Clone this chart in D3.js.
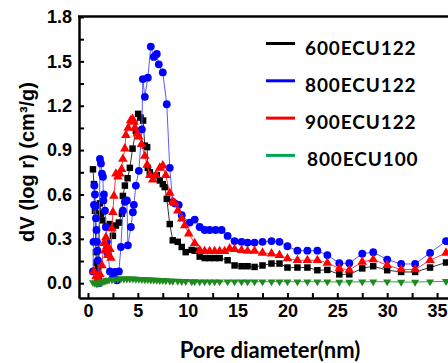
<!DOCTYPE html>
<html>
<head>
<meta charset="utf-8">
<script src="https://cdn.jsdelivr.net/npm/d3@7"></script>
<style>
  body { margin: 0; background: #fff; }
  svg { display: block; }
</style>
</head>
<body>
<svg width="448" height="363"></svg>
<script>
// series names as in the legend
var seriesNames = ["600ECU122", "800ECU122", "900ECU122", "800ECU100"];

// [pore diameter (nm), dV(log r)]
var s600 = [[0.5,0.77],[0.6,0.67],[0.7,0.49],[0.8,0.21],[0.85,0.14],[0.9,0.06],[1.0,0.10],[1.2,0.54],[1.3,0.47],[1.5,0.425],[1.8,0.38],[2.2,0.40],[2.5,0.32],[2.8,0.39],[3.1,0.41],[3.4,0.47],[3.5,0.59],[3.7,0.66],[3.97,0.71],[4.2,0.78],[4.47,0.91],[4.8,1.03],[5.03,1.145],[5.27,1.12],[5.53,1.10],[5.7,0.93],[5.93,0.92],[6.0,0.78],[6.2,0.75],[6.9,0.73],[7.2,0.695],[7.5,0.67],[7.7,0.65],[7.9,0.57],[8.2,0.40],[8.5,0.29],[9.0,0.28],[9.4,0.245],[9.8,0.21],[10.4,0.225],[10.7,0.22],[11.2,0.18],[11.7,0.17],[12.2,0.17],[12.7,0.17],[13.2,0.17],[14.0,0.155],[14.7,0.12],[15.4,0.115],[16.0,0.115],[16.7,0.11],[17.5,0.12],[18.4,0.133],[19.2,0.133],[20.0,0.106],[21.0,0.106],[22.0,0.106],[23.0,0.088],[24.0,0.09],[25.2,0.06],[26.2,0.06],[27.5,0.10],[28.6,0.115],[30.0,0.088],[31.4,0.076],[32.8,0.076],[34.3,0.106],[35.9,0.14]];

var s800 = [[0.5,0.08],[0.55,0.28],[0.6,0.53],[0.65,0.66],[0.7,0.60],[0.75,0.52],[0.8,0.44],[0.85,0.36],[0.9,0.28],[0.95,0.22],[1.0,0.155],[1.05,0.03],[1.1,0.0],[1.2,0.84],[1.3,0.81],[1.4,0.74],[1.5,0.72],[1.55,0.56],[1.6,0.60],[1.7,0.49],[1.8,0.38],[1.9,0.28],[2.0,0.20],[2.2,0.08],[2.5,0.04],[2.7,0.076],[2.9,0.02],[3.1,0.08],[3.3,0.245],[3.5,0.49],[3.7,0.55],[3.9,0.56],[4.0,0.256],[4.3,0.38],[4.5,0.48],[4.6,0.53],[4.8,0.66],[5.1,0.76],[5.4,1.04],[5.5,1.38],[5.7,1.26],[6.0,1.39],[6.3,1.60],[6.6,1.53],[6.9,1.55],[7.1,1.48],[7.5,1.425],[7.9,1.21],[8.2,0.78],[8.5,0.55],[8.7,0.54],[9.1,0.53],[9.4,0.46],[10.2,0.41],[10.7,0.43],[11.2,0.38],[11.7,0.36],[12.2,0.36],[12.8,0.36],[13.4,0.36],[14.0,0.32],[14.7,0.285],[15.4,0.28],[16.0,0.275],[16.7,0.275],[17.5,0.28],[18.4,0.285],[19.2,0.28],[20.0,0.25],[21.0,0.22],[22.0,0.22],[23.0,0.22],[24.0,0.19],[25.2,0.135],[26.2,0.135],[27.5,0.20],[28.6,0.21],[30.0,0.16],[31.4,0.13],[32.8,0.13],[34.3,0.205],[35.9,0.285]];

var s900 = [[0.6,0.08],[0.8,0.045],[1.0,0.03],[1.2,0.06],[1.4,0.12],[1.6,0.27],[1.7,0.22],[1.8,0.31],[1.9,0.25],[2.0,0.19],[2.2,0.23],[2.3,0.17],[2.4,0.37],[2.5,0.48],[2.6,0.59],[2.8,0.74],[3.0,0.72],[3.2,0.74],[3.37,0.77],[3.5,0.84],[3.7,0.91],[3.8,1.00],[4.03,1.05],[4.27,1.10],[4.47,1.11],[4.6,1.09],[4.7,1.05],[4.93,1.01],[5.1,0.99],[5.37,0.94],[5.7,0.86],[5.93,0.80],[6.2,0.73],[6.5,0.70],[6.8,0.73],[7.2,0.78],[7.5,0.795],[7.8,0.73],[8.2,0.61],[8.5,0.55],[8.7,0.54],[9.0,0.49],[9.4,0.436],[9.7,0.39],[10.1,0.335],[10.7,0.27],[11.2,0.223],[11.7,0.216],[12.2,0.216],[12.7,0.216],[13.2,0.216],[13.7,0.216],[14.2,0.234],[14.7,0.23],[15.4,0.223],[16.0,0.218],[16.7,0.218],[17.5,0.205],[18.4,0.20],[19.2,0.19],[20.0,0.167],[21.0,0.155],[22.0,0.155],[23.0,0.155],[24.0,0.137],[25.2,0.10],[26.2,0.09],[27.5,0.144],[28.6,0.16],[30.0,0.122],[31.4,0.093],[32.8,0.093],[34.3,0.155],[35.9,0.205]];

var s800b = [[0.5,0.005],[0.7,0.0],[0.9,-0.005],[1.1,0.0],[1.3,0.005],[1.5,0.01],[1.7,0.015],[1.9,0.02],[2.1,0.022],[2.4,0.025],[2.7,0.027],[3.0,0.028],[3.3,0.03],[3.6,0.03],[3.9,0.03],[4.2,0.03],[4.5,0.029],[4.8,0.028],[5.1,0.027],[5.4,0.026],[5.7,0.025],[6.0,0.024],[6.3,0.023],[6.6,0.022],[6.9,0.021],[7.2,0.02],[7.5,0.019],[7.8,0.018],[8.2,0.016],[8.5,0.015],[9.0,0.014],[9.4,0.013],[9.8,0.012],[10.4,0.011],[10.7,0.011],[11.2,0.01],[11.7,0.01],[12.2,0.01],[12.7,0.01],[13.2,0.01],[14.0,0.01],[14.7,0.01],[15.4,0.01],[16.0,0.01],[16.7,0.01],[17.5,0.01],[18.4,0.01],[19.2,0.01],[20.0,0.01],[21.0,0.01],[22.0,0.01],[23.0,0.01],[24.0,0.01],[25.2,0.008],[26.2,0.008],[27.5,0.01],[28.6,0.01],[30.0,0.01],[31.4,0.008],[32.8,0.008],[34.3,0.01],[35.9,0.012]];

// ticks every 2.5 / 0.15, labels every 5 / 0.3
var xTicks = [0,2.5,5,7.5,10,12.5,15,17.5,20,22.5,25,27.5,30,32.5,35];
var xLabels = [0,5,10,15,20,25,30,35];
var yTicks = [0,0.15,0.3,0.45,0.6,0.75,0.9,1.05,1.2,1.35,1.5,1.65,1.8];
var yLabels = ["0.0","0.3","0.6","0.9","1.2","1.5","1.8"];

var svg = d3.select('svg');

var x = d3.scaleLinear().domain([-0.9, 37.2]).range([79, 459]);
var y = d3.scaleLinear().domain([-0.1, 1.8]).range([298, 17]);

svg.append('clipPath').attr('id', 'plot')
	.append('rect').attr('x', 80).attr('y', 16).attr('width', 380).attr('height', 281);

var series = [
	{name: seriesNames[0], data: s600, line: '#333333', fill: '#000000', sym: d3.symbolSquare, size: 42, rot: 0},
	{name: seriesNames[1], data: s800, line: '#5b5bff', fill: '#0000ff', sym: d3.symbolCircle, size: 48, rot: 0},
	{name: seriesNames[2], data: s900, line: '#ff3b3b', fill: '#ff0000', sym: d3.symbolTriangle, size: 40, rot: 0},
	{name: seriesNames[3], data: s800b, line: '#3aa63a', fill: '#1f8a1f', sym: d3.symbolTriangle, size: 28, rot: 180}
];

var line = d3.line()
	.x(function(d){ return x(d[0]); })
	.y(function(d){ return y(d[1]); });

var plot = svg.append('g').attr('clip-path', 'url(#plot)');

series.forEach(function(s){
	var g = plot.append('g');
	g.append('path')
		.datum(s.data)
		.attr('d', line)
		.attr('fill', 'none')
		.attr('stroke', s.line)
		.attr('stroke-width', 1);
	g.selectAll('path.pt')
		.data(s.data)
		.enter()
		.append('path')
		.attr('class', 'pt')
		.attr('d', d3.symbol().type(s.sym).size(s.size))
		.attr('transform', function(d){
			return 'translate(' + x(d[0]) + ',' + y(d[1]) + ') rotate(' + s.rot + ')';
		})
		.attr('fill', s.fill);
});

// axes
var xAxis = d3.axisBottom(x)
	.tickValues(xTicks)
	.tickSize(-5)
	.tickSizeOuter(0)
	.tickPadding(6)
	.tickFormat(function(d){ return xLabels.indexOf(d) >= 0 ? d : ''; });

var yAxis = d3.axisLeft(y)
	.tickValues(yTicks)
	.tickSize(-5)
	.tickSizeOuter(0)
	.tickPadding(7)
	.tickFormat(function(d){
		var t = d3.format('.1f')(d);
		return yLabels.indexOf(t) >= 0 && Math.abs(d / 0.3 - Math.round(d / 0.3)) < 1e-6 ? t : '';
	});

var gx = svg.append('g').attr('transform', 'translate(0,298)').call(xAxis);
var gy = svg.append('g').attr('transform', 'translate(79,0)').call(yAxis);

[gx, gy].forEach(function(g){
	g.select('.domain').attr('stroke', '#000').attr('stroke-width', 2.5);
	g.selectAll('.tick line').attr('stroke', '#000').attr('stroke-width', 2);
	g.selectAll('.tick text')
		.attr('fill', '#000')
		.style('font-family', '"Liberation Sans", Arial, sans-serif')
		.style('font-weight', 'bold')
		.style('font-size', '18px');
});

// top border
svg.append('line')
	.attr('x1', 78).attr('x2', 448)
	.attr('y1', y(1.8) - 0.5).attr('y2', y(1.8) - 0.5)
	.attr('stroke', '#000').attr('stroke-width', 2.5);

// titles
svg.append('text')
	.attr('transform', 'translate(34,162) rotate(-90)')
	.attr('text-anchor', 'middle')
	.style('font-family', '"Liberation Sans", Arial, sans-serif')
	.style('font-weight', 'bold')
	.style('font-size', '20px')
	.text('dV (log r) (cm³/g)');

svg.append('text')
	.attr('x', 270).attr('y', 358)
	.attr('text-anchor', 'middle')
	.style('font-family', 'Lato, sans-serif')
	.style('font-weight', 'bold')
	.style('font-size', '22px')
	.text('Pore diameter(nm)');

// legend
var legendColors = ['#000000', '#0000ff', '#ff0000', '#00a651'];
var legend = svg.selectAll('g.leg')
	.data(seriesNames)
	.enter()
	.append('g')
	.attr('class', 'leg')
	.attr('transform', function(d, i){ return 'translate(266,' + (43.5 + i * 37.3) + ')'; });

legend.append('line')
	.attr('x1', 0).attr('x2', 29)
	.attr('stroke', function(d, i){ return legendColors[i]; })
	.attr('stroke-width', 3);

legend.append('text')
	.attr('x', function(d, i){ return i == 3 ? 41 : 39; })
	.attr('y', 11)
	.style('font-family', 'Lato, sans-serif')
	.style('font-weight', 'bold')
	.style('font-size', '19px')
	.style('letter-spacing', '0.9px')
	.text(function(d){ return d; });
</script>
</body>
</html>
